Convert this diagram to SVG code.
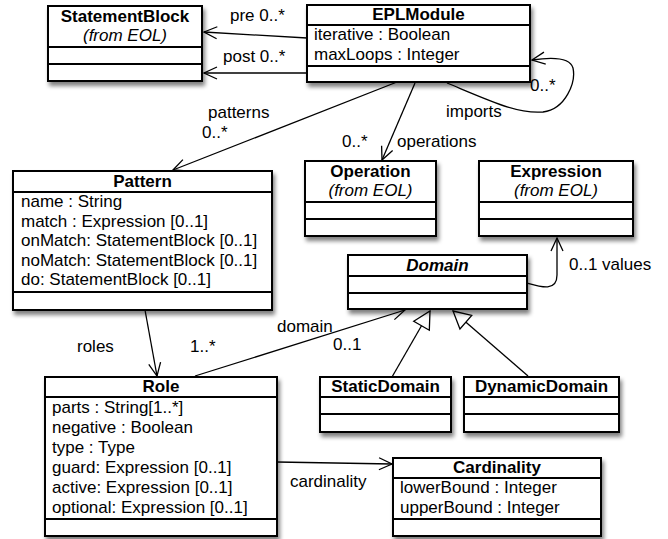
<svg xmlns="http://www.w3.org/2000/svg" width="668" height="539" viewBox="0 0 668 539">
<defs>
<filter id="sh" x="-10%" y="-10%" width="130%" height="140%">
<feGaussianBlur in="SourceAlpha" stdDeviation="2"/>
<feOffset dx="2" dy="4" result="b"/>
<feComponentTransfer><feFuncA type="linear" slope="0.5"/></feComponentTransfer>
<feMerge><feMergeNode/><feMergeNode in="SourceGraphic"/></feMerge>
</filter>
<marker id="open" markerUnits="userSpaceOnUse" markerWidth="16" markerHeight="14" viewBox="-1 -1 16 14" refX="13" refY="6" orient="auto">
<path d="M0,0 L13,6 L0,12" fill="none" stroke="#000" stroke-width="1.3"/>
</marker>
<marker id="tri" markerUnits="userSpaceOnUse" markerWidth="22" markerHeight="22" viewBox="-2 -2 22 22" refX="17" refY="9" orient="auto">
<path d="M0,0 L17,9 L0,18 Z" fill="#fff" stroke="#000" stroke-width="1.3"/>
</marker>
</defs>
<style>
.box{fill:#fff;stroke:#000;stroke-width:2;filter:url(#sh)}
.div{stroke:#000;stroke-width:2}
text{font-family:"Liberation Sans",Arial,sans-serif;font-size:17px;fill:#000}
.t{font-weight:bold;text-anchor:middle}
.ti{font-weight:bold;font-style:italic;text-anchor:middle}
.i{font-style:italic;text-anchor:middle}
.c{fill:none;stroke:#000;stroke-width:1.3}
</style>
<rect width="668" height="539" fill="#fff"/>

<g id="connectors">
<path class="c" d="M307,38 L204,32" marker-end="url(#open)"/>
<path class="c" d="M307,73 L204,73" marker-end="url(#open)"/>
<path class="c" d="M397,82 L173,170" marker-end="url(#open)"/>
<path class="c" d="M415,83 L382,160" marker-end="url(#open)"/>
<path class="c" d="M447,83 C495,103 518,114 543,112 C566,109 576,82 573,68 C570,57 552,57 532,60" marker-end="url(#open)"/>
<path class="c" d="M527,283 C541,287 557,292 557,275 L557,238" marker-end="url(#open)"/>
<path class="c" d="M145,310 L157,376" marker-end="url(#open)"/>
<path class="c" d="M195,376 L405,310" marker-end="url(#open)"/>
<path class="c" d="M392,377 L430,311" marker-end="url(#tri)"/>
<path class="c" d="M528,376 L453,311" marker-end="url(#tri)"/>
<path class="c" d="M277,462 L392,464" marker-end="url(#open)"/>
<text x="230" y="21">pre 0..*</text>
<text x="223" y="62">post 0..*</text>
<text x="208" y="118">patterns</text>
<text x="202" y="138">0..*</text>
<text x="342" y="147">0..*</text>
<text x="397" y="147">operations</text>
<text x="446" y="117">imports</text>
<text x="530" y="91">0..*</text>
<text x="569" y="270">0..1 values</text>
<text x="77" y="352">roles</text>
<text x="190" y="352">1..*</text>
<text x="277" y="332">domain</text>
<text x="333" y="350">0..1</text>
<text x="290" y="487">cardinality</text>
</g>

<g id="StatementBlock">
<rect class="box" x="48" y="6" width="154" height="75"/>
<line class="div" x1="48" y1="47" x2="202" y2="47"/>
<line class="div" x1="48" y1="64" x2="202" y2="64"/>
<text class="t" x="125" y="22">StatementBlock</text>
<text class="i" x="125" y="41">(from EOL)</text>
</g>

<g id="EPLModule">
<rect class="box" x="307" y="5" width="223" height="77"/>
<line class="div" x1="307" y1="25" x2="530" y2="25"/>
<line class="div" x1="307" y1="66" x2="530" y2="66"/>
<text class="t" x="418.5" y="20">EPLModule</text>
<text x="314" y="40">iterative : Boolean</text>
<text x="314" y="60">maxLoops : Integer</text>
</g>

<g id="Pattern">
<rect class="box" x="13" y="171" width="259" height="139"/>
<line class="div" x1="13" y1="192" x2="272" y2="192"/>
<line class="div" x1="13" y1="292" x2="272" y2="292"/>
<text class="t" x="142.5" y="187">Pattern</text>
<text x="21" y="207">name : String</text>
<text x="21" y="227">match : Expression [0..1]</text>
<text x="21" y="246">onMatch: StatementBlock [0..1]</text>
<text x="21" y="266">noMatch: StatementBlock [0..1]</text>
<text x="21" y="285">do: StatementBlock [0..1]</text>
</g>

<g id="Operation">
<rect class="box" x="305" y="161" width="131" height="75"/>
<line class="div" x1="305" y1="202" x2="436" y2="202"/>
<line class="div" x1="305" y1="219" x2="436" y2="219"/>
<text class="t" x="370.5" y="177">Operation</text>
<text class="i" x="370.5" y="196">(from EOL)</text>
</g>

<g id="Expression">
<rect class="box" x="479" y="161" width="154" height="75"/>
<line class="div" x1="479" y1="202" x2="633" y2="202"/>
<line class="div" x1="479" y1="219" x2="633" y2="219"/>
<text class="t" x="556" y="177">Expression</text>
<text class="i" x="556" y="196">(from EOL)</text>
</g>

<g id="Domain">
<rect class="box" x="348" y="255" width="179" height="54"/>
<line class="div" x1="348" y1="276" x2="527" y2="276"/>
<line class="div" x1="348" y1="293" x2="527" y2="293"/>
<text class="ti" x="437.5" y="271">Domain</text>
</g>

<g id="StaticDomain">
<rect class="box" x="320" y="377" width="131" height="55"/>
<line class="div" x1="320" y1="397" x2="451" y2="397"/>
<line class="div" x1="320" y1="414" x2="451" y2="414"/>
<text class="t" x="385.5" y="392">StaticDomain</text>
</g>

<g id="DynamicDomain">
<rect class="box" x="464" y="377" width="155" height="55"/>
<line class="div" x1="464" y1="397" x2="619" y2="397"/>
<line class="div" x1="464" y1="414" x2="619" y2="414"/>
<text class="t" x="541.5" y="392">DynamicDomain</text>
</g>

<g id="Role">
<rect class="box" x="45" y="377" width="232" height="159"/>
<line class="div" x1="45" y1="397" x2="277" y2="397"/>
<line class="div" x1="45" y1="519" x2="277" y2="519"/>
<text class="t" x="161" y="392">Role</text>
<text x="52" y="413">parts : String[1..*]</text>
<text x="52" y="433">negative : Boolean</text>
<text x="52" y="453">type : Type</text>
<text x="52" y="473">guard: Expression [0..1]</text>
<text x="52" y="493">active: Expression [0..1]</text>
<text x="52" y="513">optional: Expression [0..1]</text>
</g>

<g id="Cardinality">
<rect class="box" x="393" y="458" width="208" height="78"/>
<line class="div" x1="393" y1="478" x2="601" y2="478"/>
<line class="div" x1="393" y1="519" x2="601" y2="519"/>
<text class="t" x="497" y="473">Cardinality</text>
<text x="400" y="493">lowerBound : Integer</text>
<text x="400" y="513">upperBound : Integer</text>
</g>
</svg>
